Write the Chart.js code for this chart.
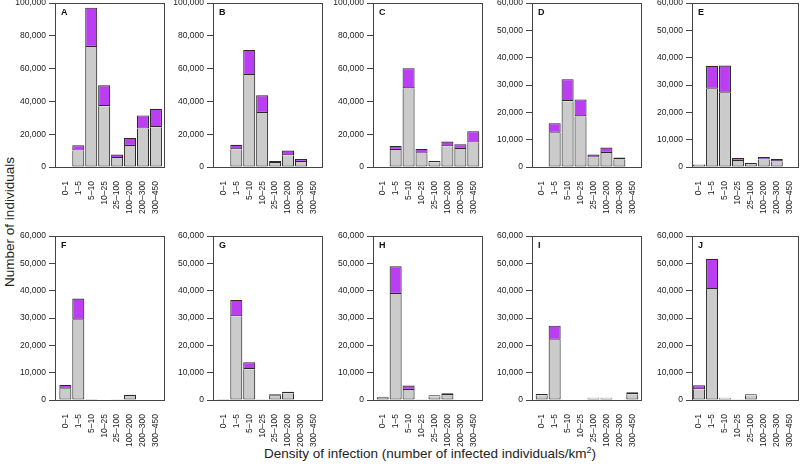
<!DOCTYPE html>
<html><head><meta charset="utf-8">
<script src="https://cdn.jsdelivr.net/npm/chart.js@4.4.0/dist/chart.umd.min.js"></script>
<style>
body{margin:0;width:800px;height:470px;position:relative;background:#fff;overflow:hidden;font-family:"Liberation Sans",Arial,sans-serif;color:#222;}
canvas{position:absolute;}
#yt{position:absolute;left:9px;top:222px;transform:translate(-50%,-50%) rotate(-90deg);white-space:nowrap;font-size:13.5px;}
#xt{position:absolute;left:430px;top:453px;transform:translate(-50%,-50%);white-space:nowrap;font-size:13.5px;}
#xt sup{font-size:9px;vertical-align:5px;line-height:0;}
</style></head>
<body>
<div id="yt">Number of individuals</div>
<div id="xt">Density of infection (number of infected individuals/km<sup>2</sup>)</div>
<script>
const categories = ['0–1','1–5','5–10','10–25','25–100','100–200','200–300','300–450'];
const panelLetters = ['A','B','C','D','E','F','G','H','I','J'];
const yMaxValues = [100000,100000,100000,60000,60000,60000,60000,60000,60000,60000];
const yStepValues = [20000,20000,20000,10000,10000,10000,10000,10000,10000,10000];

// gray (lower) and purple (upper) segments per panel
const grayA   = [0, 10000, 73200, 37100, 5500, 12850, 23400, 24300];
const purpleA = [0, 3300, 23900, 12700, 2050, 4900, 8000, 11200];
const grayB   = [0, 10800, 56100, 33000, 2450, 7100, 3060, 0];
const purpleB = [0, 2700, 15300, 10700, 1250, 2900, 1840, 0];
const grayC   = [0, 10400, 47900, 8160, 2900, 12650, 11000, 14900];
const purpleC = [0, 2450, 12300, 2840, 800, 2850, 2900, 6900];
const grayD   = [0, 12500, 24100, 18500, 3430, 5140, 2700, 0];
const purpleD = [0, 3500, 8000, 6200, 1100, 1960, 730, 0];
const grayE   = [900, 28600, 27200, 2200, 1100, 2700, 2000, 0];
const purpleE = [100, 8400, 9900, 1100, 370, 970, 900, 0];
const grayF   = [4160, 29400, 300, 0, 200, 1470, 0, 0];
const purpleF = [1340, 7700, 80, 0, 80, 490, 0, 0];
const grayG   = [300, 30600, 11260, 250, 1600, 2450, 0, 0];
const purpleG = [100, 6000, 2570, 80, 480, 610, 0, 0];
const grayH   = [860, 38800, 3670, 200, 1350, 1840, 0, 0];
const purpleH = [360, 10160, 1590, 80, 360, 610, 0, 0];
const grayI   = [1710, 22000, 0, 0, 600, 600, 0, 2080];
const purpleI = [490, 5200, 0, 0, 250, 250, 0, 720];
const grayJ   = [3900, 40600, 600, 200, 1700, 0, 0, 0];
const purpleJ = [1500, 11050, 260, 80, 380, 0, 0, 0];

const grays = [grayA,grayB,grayC,grayD,grayE,grayF,grayG,grayH,grayI,grayJ];
const purples = [purpleA,purpleB,purpleC,purpleD,purpleE,purpleF,purpleG,purpleH,purpleI,purpleJ];

// layout (box positions in page pixels)
const colLeft = [55, 213, 373, 532, 692];
const colWidth = [110, 110, 110, 110, 107];
const rowTop = [3, 236];
const boxH = 164;
const xRange = [[-0.8,7.7],[-0.8,7.7],[-0.75,7.75],[-0.75,7.75],[-0.55,7.72]];

Chart.defaults.font.family = '"Liberation Sans", Arial, sans-serif';
Chart.defaults.color = '#222';

const boxPlugin = {
  id: 'boxPlugin',
  afterDatasetsDraw(chart, args, opts) {
    const a = chart.chartArea, c = chart.ctx;
    c.save();
    c.strokeStyle = '#444'; c.lineWidth = 1;
    c.strokeRect(Math.round(a.left)+0.5, Math.round(a.top)+0.5, Math.round(a.right-a.left)-1, Math.round(a.bottom-a.top));
    c.fillStyle = '#111';
    c.font = 'bold 9px "Liberation Sans", Arial, sans-serif';
    c.textBaseline = 'middle';
    c.fillText(opts.letter, a.left + 6, a.top + 10);
    c.restore();
  }
};

const AXW = 50, XH = 60, PT = 6, PR = 4;
for (let p = 0; p < 10; p++) {
  const r = Math.floor(p/5), col = p % 5;
  const bl = colLeft[col], bt = rowTop[r], bw = colWidth[col];
  const cv = document.createElement('canvas');
  const W = bw + AXW + PR, H = boxH + PT + XH;
  cv.width = W; cv.height = H;
  cv.style.left = (bl - AXW) + 'px'; cv.style.top = (bt - PT) + 'px';
  cv.style.width = W + 'px'; cv.style.height = H + 'px';
  document.body.appendChild(cv);
  const toPts = arr => arr.map((v,i) => ({x:i, y: v === 0 ? null : v}));
  const pur = purples[p];
  new Chart(cv, {
    type: 'bar',
    data: { datasets: [
      { data: toPts(grays[p]), backgroundColor:'#cbcbcb', borderColor:'#2a2a2a', borderWidth:1.1,
        borderSkipped: ctx => (pur[ctx.dataIndex] > 0 ? 'top' : false),
        categoryPercentage:1, barPercentage:0.93 },
      { data: toPts(pur), backgroundColor:'#bb3ef3', borderColor:'#2a2a2a', borderWidth:1.1, borderSkipped:false,
        categoryPercentage:1, barPercentage:0.93 }
    ]},
    options: {
      responsive:false, animation:false, devicePixelRatio:1,
      layout:{padding:{top:PT,right:PR,left:0,bottom:0}},
      plugins:{legend:{display:false}, tooltip:{enabled:false}, boxPlugin:{letter:panelLetters[p]}},
      scales:{
        x:{ type:'linear', stacked:true, offset:false, min:xRange[col][0], max:xRange[col][1],
            grid:{display:false}, border:{display:false},
            afterBuildTicks: s => { s.ticks = categories.map((c,i)=>({value:i})); },
            afterFit: s => { s.height = XH; s.paddingLeft = 0; s.paddingRight = 0; },
            ticks:{ autoSkip:false, minRotation:90, maxRotation:90, padding:6, font:{size:8.5}, color:'#222',
                    callback: v => categories[v] } },
        y:{ stacked:true, min:0, max:yMaxValues[p],
            grid:{drawOnChartArea:false, drawTicks:true, tickLength:6, color:'#444'},
            border:{display:true, color:'#444'},
            afterFit: s => { s.width = AXW; s.paddingTop = 0; s.paddingBottom = 0; },
            ticks:{ stepSize:yStepValues[p], padding:3, font:{size:8.5}, color:'#222',
                    callback: v => v.toLocaleString('en-US') } }
      }
    },
    plugins:[boxPlugin]
  });
}
</script>
</body></html>
